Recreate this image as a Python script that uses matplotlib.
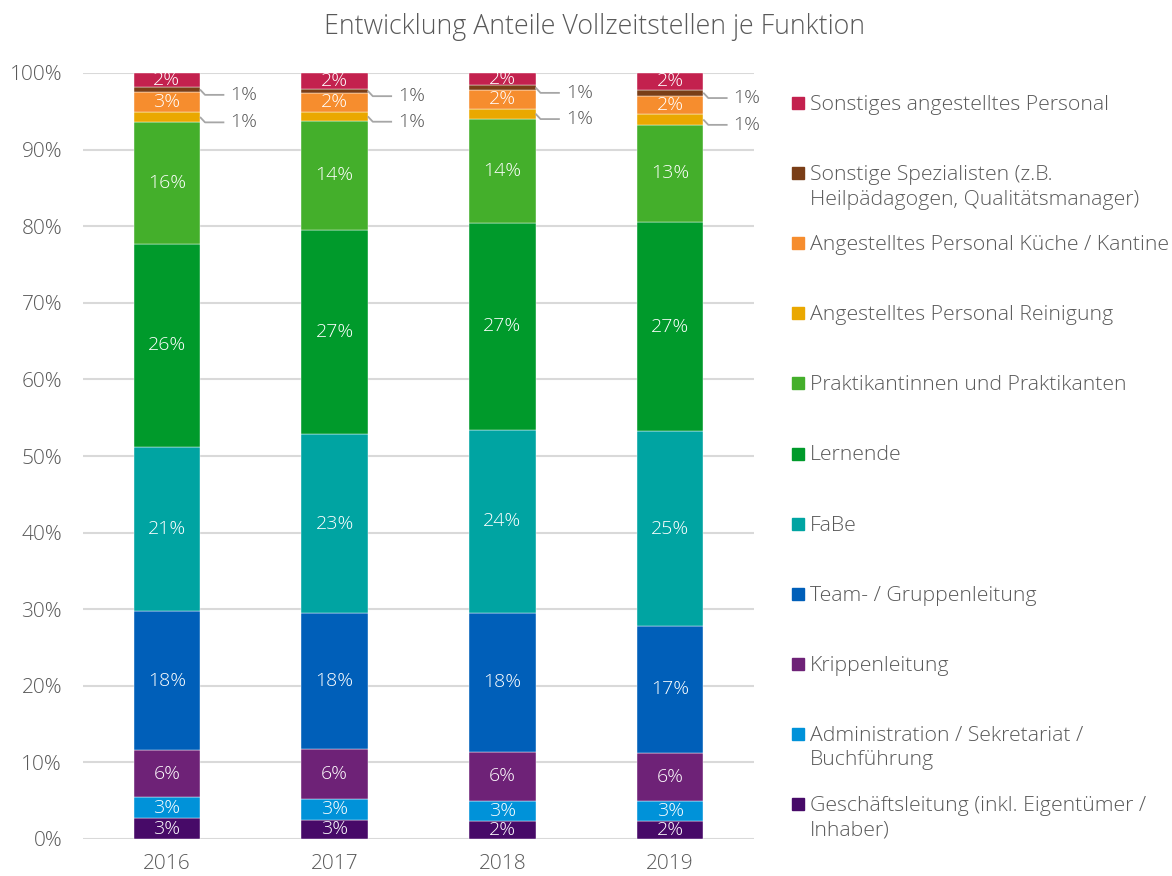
import matplotlib
matplotlib.use("Agg")
import matplotlib.pyplot as plt
from matplotlib.patches import Rectangle
import numpy as np

plt.rcParams['font.family'] = ['Open Sans', 'DejaVu Sans']

categories = ['2016', '2017', '2018', '2019']
series_names = [
    'Geschäftsleitung (inkl. Eigentümer /\nInhaber)',
    'Administration / Sekretariat /\nBuchführung',
    'Krippenleitung',
    'Team- / Gruppenleitung',
    'FaBe',
    'Lernende',
    'Praktikantinnen und Praktikanten',
    'Angestelltes Personal Reinigung',
    'Angestelltes Personal Küche / Kantine',
    'Sonstige Spezialisten (z.B.\nHeilpädagogen, Qualitätsmanager)',
    'Sonstiges angestelltes Personal',
]
geschaeftsleitung = [2.70, 2.52, 2.39, 2.39]
administration = [2.74, 2.70, 2.61, 2.57]
krippenleitung = [6.14, 6.49, 6.40, 6.23]
team = [18.22, 17.79, 18.14, 16.66]
fabe = [21.44, 23.33, 23.89, 25.37]
lernende = [26.48, 26.71, 27.03, 27.37]
praktikanten = [15.92, 14.19, 13.57, 12.66]
reinigung = [1.23, 1.22, 1.31, 1.36]
kueche = [2.69, 2.45, 2.48, 2.43]
spezialisten = [0.57, 0.55, 0.57, 0.78]
sonstiges = [1.87, 2.05, 1.61, 2.18]
series_values = [geschaeftsleitung, administration, krippenleitung, team, fabe,
                 lernende, praktikanten, reinigung, kueche, spezialisten, sonstiges]
colors = ['#470A68', '#0092D9', '#6E2277', '#005FB9', '#00A4A2', '#009A2B',
          '#44AF2B', '#EAA800', '#F68D2E', '#7A3E17', '#C3214E']
outside = {7, 9}  # series labelled outside with leader lines

title = 'Entwicklung Anteile Vollzeitstellen je Funktion'
ytick_vals = list(range(0, 101, 10))
ytick_labels = [f'{v}%' for v in ytick_vals]

TXT = '#595959'
FW = 'light'
W, H = 1172, 876
fig = plt.figure(figsize=(W / 100, H / 100), dpi=100)
ax = fig.add_axes([83 / W, 1 - 839 / H, (754 - 83) / W, (839 - 73) / H])

x = np.arange(len(categories))
bw = 0.395
bottom = np.zeros(len(categories))
for i, (vals, col) in enumerate(zip(series_values, colors)):
    vals = np.array(vals, dtype=float)
    ax.bar(x, vals, bw, bottom=bottom, color=col, edgecolor='#ffffff',
           linewidth=0.3, zorder=3)
    for j, v in enumerate(vals):
        mid = bottom[j] + v / 2
        lab = f'{int(np.floor(v + 0.5))}%'
        if i in outside:
            xr = x[j] + bw / 2
            ly = mid - 0.7
            ax.plot([xr, xr + 0.03, xr + 0.145], [mid, ly, ly], color='#A6A6A6',
                    lw=1.3, zorder=4, clip_on=False, solid_capstyle='butt')
            ax.text(xr + 0.18, ly, lab, ha='left', va='center', fontsize=14,
                    color=TXT, fontweight=FW, zorder=5)
        else:
            ax.text(x[j], mid, lab, ha='center', va='center', fontsize=14,
                    color='white', fontweight=FW, zorder=5)
    bottom += vals

ax.set_xlim(-0.5, len(categories) - 0.5)
ax.set_ylim(0, 100)
ax.set_yticks(ytick_vals)
ax.set_yticklabels(ytick_labels)
ax.set_xticks(x)
ax.set_xticklabels(categories)
ax.yaxis.grid(True, color='#D9D9D9', lw=1.5, zorder=0)
ax.set_axisbelow(True)
for s in ax.spines.values():
    s.set_visible(False)
ax.tick_params(axis='both', length=0, labelsize=15, colors=TXT)
ax.tick_params(axis='y', pad=15)
ax.tick_params(axis='x', pad=11)
for t in ax.get_xticklabels() + ax.get_yticklabels():
    t.set_fontweight(FW)

fig.text(595 / W, 1 - 27 / H, title, ha='center', va='center', fontsize=19.3,
         color=TXT, fontweight=FW)

# legend (top entry = top of stack)
n = len(series_names)
for k in range(n):
    i = n - 1 - k
    yc = 103 + k * 70.1
    fig.patches.append(Rectangle((792 / W, 1 - (yc + 6) / H), 12 / W, 12 / H,
                                 transform=fig.transFigure, color=colors[i]))
    fig.text(810 / W, 1 - (yc - 8) / H, series_names[i], ha='left', va='top',
             fontsize=15.3, color=TXT, fontweight=FW, linespacing=1.3)

fig.savefig('out.png', dpi=100)
